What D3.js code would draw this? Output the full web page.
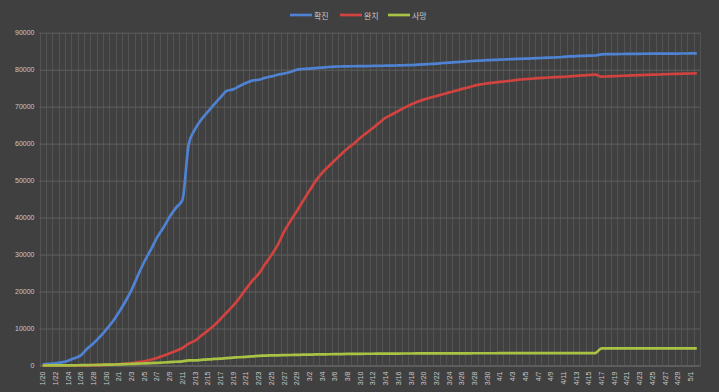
<!DOCTYPE html>
<html>
<head>
<meta charset="utf-8">
<script src="https://cdn.jsdelivr.net/npm/d3@7"></script>
<style>
  html, body { margin: 0; padding: 0; background: #404040; }
  svg { display: block; }
</style>
</head>
<body>
<svg id="chart" width="719" height="392"></svg>
<script>
// Daily dates, 2020-01-20 .. 2020-05-02
const dates = [
  "1/20","1/21","1/22","1/23","1/24","1/25","1/26","1/27","1/28","1/29","1/30","1/31",
  "2/1","2/2","2/3","2/4","2/5","2/6","2/7","2/8","2/9","2/10","2/11","2/12","2/13","2/14",
  "2/15","2/16","2/17","2/18","2/19","2/20","2/21","2/22","2/23","2/24","2/25","2/26","2/27",
  "2/28","2/29","3/1","3/2","3/3","3/4","3/5","3/6","3/7","3/8","3/9","3/10","3/11","3/12",
  "3/13","3/14","3/15","3/16","3/17","3/18","3/19","3/20","3/21","3/22","3/23","3/24","3/25",
  "3/26","3/27","3/28","3/29","3/30","3/31","4/1","4/2","4/3","4/4","4/5","4/6","4/7","4/8",
  "4/9","4/10","4/11","4/12","4/13","4/14","4/15","4/16","4/17","4/18","4/19","4/20","4/21",
  "4/22","4/23","4/24","4/25","4/26","4/27","4/28","4/29","4/30","5/1","5/2"
];

// Cumulative confirmed cases
const confirmed = [
  291,441,573,835,1294,1985,2757,4530,5991,7730,9714,11816,
  14408,17236,20472,24362,28058,31206,34596,37253,40231,42703,44721,59875,63925,66569,
  68580,70632,72524,74277,74672,75565,76394,77048,77268,77782,78194,78631,78962,
  79393,79970,80176,80305,80428,80571,80717,80819,80866,80909,80931,80958,80985,81015,
  81040,81070,81100,81150,81200,81258,81340,81428,81540,81653,81800,81900,82025,
  82150,82280,82389,82470,82560,82634,82720,82790,82869,82930,82990,83050,83130,83215,
  83280,83353,83465,83585,83685,83745,83800,83830,84160,84195,84218,84234,84250,
  84285,84298,84306,84320,84332,84336,84343,84366,84371,84384,84390
];

// Cumulative recovered
const recovered = [
  25,25,28,34,38,49,51,60,103,124,171,243,
  328,475,632,892,1153,1540,2050,2649,3281,3996,4740,5911,6723,8100,
  9425,10852,12562,14388,16170,18282,20680,22912,24762,27355,29781,32535,36160,
  39050,41680,44522,47268,49924,52117,53802,55485,57150,58690,59992,61575,62898,64221,
  65656,67031,67879,68817,69746,70573,71310,71908,72420,72888,73352,73851,74261,
  74806,75198,75684,76015,76307,76503,76690,76870,77070,77300,77435,77550,77690,77810,
  77920,78005,78080,78200,78320,78440,78560,78650,78120,78190,78260,78330,78400,
  78460,78520,78580,78640,78700,78770,78830,78880,78930,78970,79000
];

// Cumulative deaths
const deaths = [
  6,9,17,25,41,56,80,106,132,170,213,259,
  304,362,426,491,564,637,723,812,909,1017,1114,1368,1381,1524,
  1666,1771,1869,2006,2120,2238,2347,2444,2594,2665,2717,2746,2790,
  2837,2872,2915,2946,2984,3015,3045,3073,3100,3122,3139,3161,3172,3179,
  3192,3202,3217,3230,3241,3249,3253,3260,3267,3276,3284,3288,3294,
  3299,3302,3307,3311,3312,3319,3325,3329,3333,3336,3338,3340,3341,3344,
  3344,3344,3346,3346,3347,3348,3348,3348,4642,4642,4642,4642,4642,
  4642,4642,4642,4642,4642,4642,4642,4642,4642,4642,4643
];

const yTicks = [0,10000,20000,30000,40000,50000,60000,70000,80000,90000];

const seriesNames = ["확진", "완치", "사망"];
const seriesColors = ["#4f82d2", "#d0433f", "#a8c244"];
const seriesData = [confirmed, recovered, deaths];

const svg = d3.select("#chart");
const W = 719, H = 392;
const m = { left: 39.5, right: 19, top: 32.7, bottom: 26.5 };
const plotW = W - m.left - m.right;
const plotH = H - m.top - m.bottom;

svg.append("rect").attr("width", W).attr("height", H).attr("fill", "#404040");

const x = d3.scaleBand().domain(dates).range([m.left, m.left + plotW]).paddingInner(0).paddingOuter(0);
const y = d3.scaleLinear().domain([0, 90000]).range([m.top + plotH, m.top]);

// vertical gridlines at every category boundary
const g = svg.append("g");
g.selectAll("line.vg")
  .data(dates.concat(["__end"]))
  .join("line")
  .attr("class", "vg")
  .attr("x1", (d, i) => Math.round(m.left + i * x.bandwidth()) + 0.5)
  .attr("x2", (d, i) => Math.round(m.left + i * x.bandwidth()) + 0.5)
  .attr("y1", y(90000))
  .attr("y2", y(0))
  .attr("stroke", "#535353")
  .attr("stroke-width", 1);

// horizontal gridlines
const yAxis = d3.axisLeft(y).tickValues(yTicks).tickSize(-plotW).tickFormat(d => d);
const ya = svg.append("g").attr("transform", `translate(${m.left},0)`).call(yAxis);
ya.select(".domain").remove();
ya.selectAll(".tick line").attr("stroke", "#5e5e5e");
ya.selectAll(".tick text")
  .attr("x", -5)
  .attr("fill", "#c8c8c8")
  .attr("font-size", 7)
  .attr("font-family", "Liberation Sans, Arial, sans-serif");

// category axis
const xAxis = d3.axisBottom(x)
  .tickValues(dates.filter((d, i) => i % 2 === 0))
  .tickSize(0);
const xa = svg.append("g").attr("transform", `translate(0,${y(0)})`).call(xAxis);
xa.select(".domain").attr("stroke", "#6a6a6a");
xa.selectAll(".tick text")
  .attr("transform", "rotate(-90)")
  .attr("text-anchor", "end")
  .attr("dominant-baseline", "central")
  .attr("x", -6)
  .attr("y", 0)
  .attr("dy", 0)
  .attr("fill", "#c8c8c8")
  .attr("font-size", 7)
  .attr("font-family", "Liberation Sans, Arial, sans-serif");

// series lines
const line = d3.line()
  .x((d, i) => x(dates[i]) + x.bandwidth() / 2)
  .y(d => y(d))
  .curve(d3.curveMonotoneX);

svg.append("g").selectAll("path.series")
  .data(seriesData)
  .join("path")
  .attr("class", "series")
  .attr("fill", "none")
  .attr("stroke", (d, i) => seriesColors[i])
  .attr("stroke-width", 2.7)
  .attr("stroke-linejoin", "round")
  .attr("d", line);

// legend
const legendX = [290, 340, 388];
const lg = svg.append("g");
seriesNames.forEach((name, i) => {
  const gi = lg.append("g").attr("transform", `translate(${legendX[i]},15)`);
  gi.append("line").attr("x1", 0).attr("x2", 22).attr("y1", 0).attr("y2", 0)
    .attr("stroke", seriesColors[i]).attr("stroke-width", 2.7);
  gi.append("text").attr("x", 24).attr("y", 0).attr("dominant-baseline", "central")
    .attr("fill", "#c8c8c8").attr("font-size", 8)
    .attr("font-family", "Noto Sans CJK KR, sans-serif")
    .text(name);
});
</script>
</body>
</html>
